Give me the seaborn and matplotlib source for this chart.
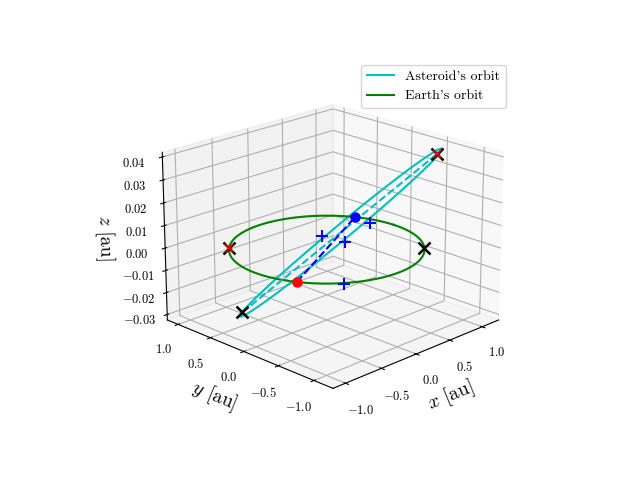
import numpy as np
import matplotlib
matplotlib.use("Agg")
import matplotlib.pyplot as plt
import seaborn as sns

plt.rcParams['font.family'] = 'serif'
plt.rcParams['font.serif'] = ['cmr10']
plt.rcParams['mathtext.fontset'] = 'cm'
plt.rcParams['axes.formatter.use_mathtext'] = True

# asteroid apsides (aphelion, perihelion) [au]
aphelion = [1.02, -0.57, 0.037]
perihelion = [-0.78, 0.44, -0.025]
# node direction in the ecliptic plane
node_dir = [0.879, 0.476, 0.0]
# ascending / descending node positions
node_asc = [0.90, 0.47, 0.0]
node_desc = [-0.88, -0.47, 0.0]
# Earth positions (black x)
earth_x = [-0.707, 0.707]
earth_y = [0.707, -0.707]
# blue + markers
plus_x = [0.86, 0.23, 0.26, -0.59]
plus_y = [0.22, 0.30, -0.01, -0.83]
plus_z = [0.0, 0.0, 0.0, 0.0]

A = np.array(aphelion)
P = np.array(perihelion)
N = np.array(node_dir)
a = (np.linalg.norm(A) + np.linalg.norm(P)) / 2
e = (np.linalg.norm(A) - np.linalg.norm(P)) / (2 * a)
b = a * np.sqrt(1 - e**2)
C = (A + P) / 2
ua = A / np.linalg.norm(A)
ub = N - N.dot(ua) * ua
ub /= np.linalg.norm(ub)
th = np.linspace(0, 2 * np.pi, 400)
ast = C[:, None] + a * np.cos(th) * ua[:, None] + b * np.sin(th) * ub[:, None]

fig = plt.figure(figsize=(6.4, 4.8), dpi=100)
ax = fig.add_subplot(projection='3d')
ax.computed_zorder = False
ax.plot(ast[0], ast[1], ast[2], color='c', label="Asteroid's orbit", zorder=1)
ax.plot(np.cos(th), np.sin(th), 0 * th, color='g', label="Earth's orbit", zorder=1)
ax.plot([A[0], P[0]], [A[1], P[1]], [A[2], P[2]], 'c--', zorder=2)
ax.plot([node_desc[0], node_asc[0]], [node_desc[1], node_asc[1]], [0, 0], 'b--', zorder=2)
ax.plot([node_asc[0]], [node_asc[1]], [0], 'o', color='b', ms=6.5, zorder=3)
ax.plot([node_desc[0]], [node_desc[1]], [0], 'o', color='r', ms=6.5, zorder=3)
ax.plot(plus_x, plus_y, plus_z, '+', color='b', ms=8, mew=1.5, lw=0, zorder=3)
ax.plot([A[0], P[0]] + earth_x, [A[1], P[1]] + earth_y, [A[2], P[2], 0, 0], 'x',
        color='k', ms=8, mew=1.8, lw=0, zorder=4)
ax.plot([A[0], earth_x[0]], [A[1], earth_y[0]], [A[2], 0], 'x', color='r', ms=5.5,
        mew=1.2, lw=0, zorder=5)

ax.set_xlim(-1.17, 1.26)
ax.set_ylim(-1.26, 1.17)
ax.set_zlim(-0.0325, 0.042)
ax.view_init(elev=20, azim=-135)
ax.set_xticks([-1.0, -0.5, 0.0, 0.5, 1.0])
ax.set_yticks([-1.0, -0.5, 0.0, 0.5, 1.0])
ax.set_zticks([-0.03, -0.02, -0.01, 0.0, 0.01, 0.02, 0.03, 0.04])
ax.tick_params(labelsize=9)
ax.set_xlabel(r'$x$ [au]', fontsize=14)
ax.set_ylabel(r'$y$ [au]', fontsize=14)
ax.set_zlabel(r'$z$ [au]', fontsize=14)
ax.legend(loc='upper right', fontsize=10)
fig.savefig('out.png', dpi=100)
